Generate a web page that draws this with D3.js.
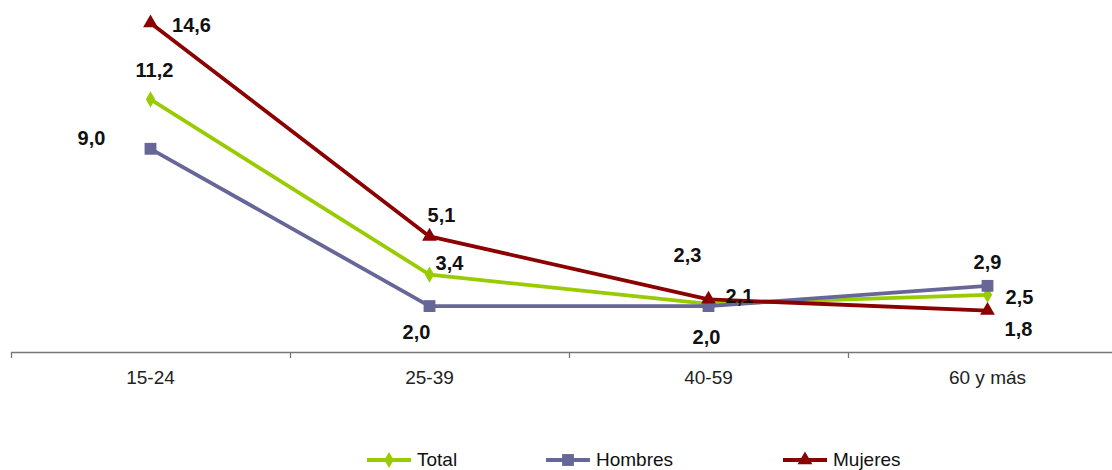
<!DOCTYPE html>
<html><head><meta charset="utf-8">
<script src="https://cdn.jsdelivr.net/npm/d3@7"></script>
<style>body{margin:0;background:#fff}svg{display:block}</style>
</head><body>
<svg id="c" width="1112" height="470"></svg>
<script>
const categories = ["15-24", "25-39", "40-59", "60 y más"];
const seriesNames = ["Total", "Hombres", "Mujeres"];
const totalValues = [11.2, 3.4, 2.1, 2.5];
const hombresValues = [9.0, 2.0, 2.0, 2.9];
const mujeresValues = [14.6, 5.1, 2.3, 1.8];

const colors = ["#99cc00", "#666699", "#8b0000"];
const markers = ["diamond", "square", "triangle"];
// label offsets [dx, dy] relative to each point
const labelOffsets = [
  [[4, -29], [20, -12], [31, -8], [32, 2]],
  [[-59, -11], [-13, 26], [-2, 31], [0, -24]],
  [[41, 2], [12, -21], [-21, -44], [31, 18]]
];

const series = [totalValues, hombresValues, mujeresValues];
const svg = d3.select("#c");
const FONT = "Arial, 'Liberation Sans', sans-serif";
const x = d3.scaleBand().domain(categories).range([11, 1127]);
const y = d3.scaleLinear().domain([0, 15]).range([351, 14]);

const axis = d3.axisBottom(x).tickSize(0).tickPadding(0);
const gx = svg.append("g").attr("transform", "translate(0,352)").call(axis);
gx.select(".domain").remove();
gx.selectAll("text").attr("dy", null).attr("y", 25).attr("dominant-baseline", "central")
  .style("font-family", FONT).style("font-size", "19px").attr("fill", "#222");
svg.append("line").attr("x1", 11).attr("x2", 1112).attr("y1", 352.5).attr("y2", 352.5).attr("stroke", "#777").attr("stroke-width", 1.3);
const bounds = categories.map(c => x(c));
svg.selectAll(".tk").data(bounds).enter().append("line")
  .attr("x1", d => Math.round(d) + 0.5).attr("x2", d => Math.round(d) + 0.5)
  .attr("y1", 352).attr("y2", 358).attr("stroke", "#777").attr("stroke-width", 1.3);

const cx = c => x(c) + x.bandwidth() / 2;
const symType = {diamond: d3.symbolDiamond, square: d3.symbolSquare, triangle: d3.symbolTriangle};
const symSize = {diamond: 75, square: 140, triangle: 95};

series.forEach((vals, i) => {
  const line = d3.line().x((d, j) => cx(categories[j])).y(d => y(d));
  svg.append("path").datum(vals).attr("d", line).attr("fill", "none")
    .attr("stroke", colors[i]).attr("stroke-width", 3.8).attr("stroke-linejoin", "round");
});
series.forEach((vals, i) => {
  svg.selectAll(".m" + i).data(vals).enter().append("path")
    .attr("d", d3.symbol().type(symType[markers[i]]).size(symSize[markers[i]]))
    .attr("transform", (d, j) => `translate(${cx(categories[j])},${y(d)})`)
    .attr("fill", colors[i]);
});
series.forEach((vals, i) => {
  svg.selectAll(".l" + i).data(vals).enter().append("text")
    .attr("x", (d, j) => cx(categories[j]) + labelOffsets[i][j][0])
    .attr("y", (d, j) => y(d) + labelOffsets[i][j][1])
    .attr("text-anchor", "middle").attr("dominant-baseline", "central")
    .style("font-family", FONT).style("font-size", "20px").style("font-weight", "bold")
    .attr("fill", "#111")
    .text(d => d.toFixed(1).replace(".", ","));
});

// legend
const legX = [367, 546, 783];
seriesNames.forEach((n, i) => {
  const g = svg.append("g").attr("transform", `translate(${legX[i]},460)`);
  g.append("line").attr("x1", 0).attr("x2", 44).attr("stroke", colors[i]).attr("stroke-width", 3.8);
  g.append("path").attr("d", d3.symbol().type(symType[markers[i]]).size(symSize[markers[i]]))
    .attr("transform", "translate(22,0)").attr("fill", colors[i]);
  g.append("text").attr("x", 50).attr("y", -1).attr("dominant-baseline", "central")
    .style("font-family", FONT).style("font-size", "19px").attr("fill", "#111").text(n);
});
</script>
</body></html>
